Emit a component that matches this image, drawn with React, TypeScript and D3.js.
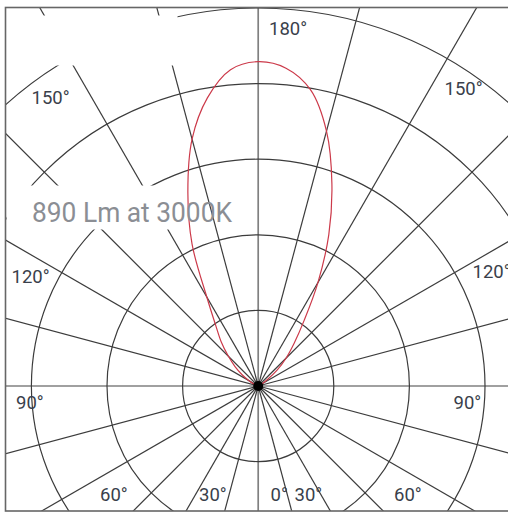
import React from 'react';
import * as d3 from 'd3';

// Polar angle (gamma, 0° = nadir, 180° = zenith) at which intensity is read
const gammaAngles = [100, 105, 110, 115, 120, 125, 130, 135, 140, 145, 150, 155, 160, 165, 170, 175, 180];
// Right half of the curve (C0 plane)
const intensityC0 = [0, 0, 1, 2, 6, 15, 33, 52, 74, 106, 158, 221, 285, 349, 398, 422, 429];
// Left half of the curve (C180 plane)
const intensityC180 = [0, 1, 3, 7, 14, 26, 40, 56, 76, 98, 136, 207, 272, 338, 387, 420, 429];
// Concentric ring values
const ringValues = [100, 200, 300, 400, 500];
// Spokes every 15°
const spokeAngles = d3.range(0, 360, 15);
// Angle label texts
const angleLabelTexts = ['180°', '150°', '150°', '120°', '120°', '90°', '90°', '60°', '30°', '0°', '30°', '60°'];
const titleText = '890 Lm at 3000K';

const W = 508;
const H = 513;
const cx = 258.2;
const cy = 386;

const labelPos: [number, number][] = [
  [269, 35],
  [31.5, 104],
  [444.5, 95],
  [11.5, 283],
  [472.5, 278],
  [16, 409],
  [453.5, 409],
  [100, 501],
  [199, 501],
  [270.5, 501],
  [294.5, 501],
  [394, 501],
];

export default function App() {
  const rScale = d3.scaleLinear().domain([0, 500]).range([0, 378]);

  // d3.lineRadial: angle clockwise from 12 o'clock
  const right = gammaAngles.map((g, i) => [Math.PI - (g * Math.PI) / 180, rScale(intensityC0[i])] as [number, number]);
  const left = gammaAngles.map((g, i) => [Math.PI + (g * Math.PI) / 180, rScale(intensityC180[i])] as [number, number]);
  const pts = [...left, ...right.slice(0, -1).reverse()];
  const line = d3
    .lineRadial<[number, number]>()
    .angle((d) => d[0])
    .radius((d) => d[1])
    .curve(d3.curveCatmullRom.alpha(0.5));
  const curvePath = line(pts) || '';

  const font = 'Roboto, "DejaVu Sans", sans-serif';

  return (
    <div style={{ position: 'fixed', left: 0, top: 0 }}>
      <svg width={W} height={H} viewBox={`0 0 ${W} ${H}`}>
        <defs>
          <clipPath id="frameClip">
            <rect x={5.5} y={7.5} width={510} height={503.5} />
          </clipPath>
        </defs>
        <rect x={0} y={0} width={W} height={H} fill="#fff" />
        <g clipPath="url(#frameClip)">
          {spokeAngles.map((a) => {
            const rad = (a * Math.PI) / 180;
            const R = 700;
            const axis = a % 90 === 0;
            return (
              <line
                key={a}
                x1={cx}
                y1={cy}
                x2={cx + R * Math.sin(rad)}
                y2={cy + R * Math.cos(rad)}
                stroke={axis ? '#808080' : '#3c3c3c'}
                strokeWidth={axis ? 1.7 : 1.2}
              />
            );
          })}
          {ringValues.map((v) => (
            <circle key={v} cx={cx} cy={cy} r={rScale(v)} fill="none" stroke="#3c3c3c" strokeWidth={1.2} />
          ))}
          <rect x={6.5} y={15.5} width={171} height={50} fill="#fff" />
          <rect x={6.5} y={185.5} width={171} height={44} fill="#fff" />
          <g transform={`translate(${cx},${cy})`}>
            <path d={curvePath} fill="none" stroke="#cc3a4a" strokeWidth={1.2} />
          </g>
          <circle cx={cx} cy={cy} r={5} fill="#000" />
        </g>
        <rect x={5.5} y={7.5} width={510} height={503.5} fill="none" stroke="#666" strokeWidth={1.6} />
        {angleLabelTexts.map((t, i) => (
          <text key={i} x={labelPos[i][0]} y={labelPos[i][1]} fontFamily={font} fontSize={18.5} fill="#3a3f4b">
            {t}
          </text>
        ))}
        <text x={32} y={222} fontFamily={font} fontSize={28} fill="#8b8e94" textLength={200} lengthAdjust="spacingAndGlyphs">
          {titleText}
        </text>
      </svg>
    </div>
  );
}
